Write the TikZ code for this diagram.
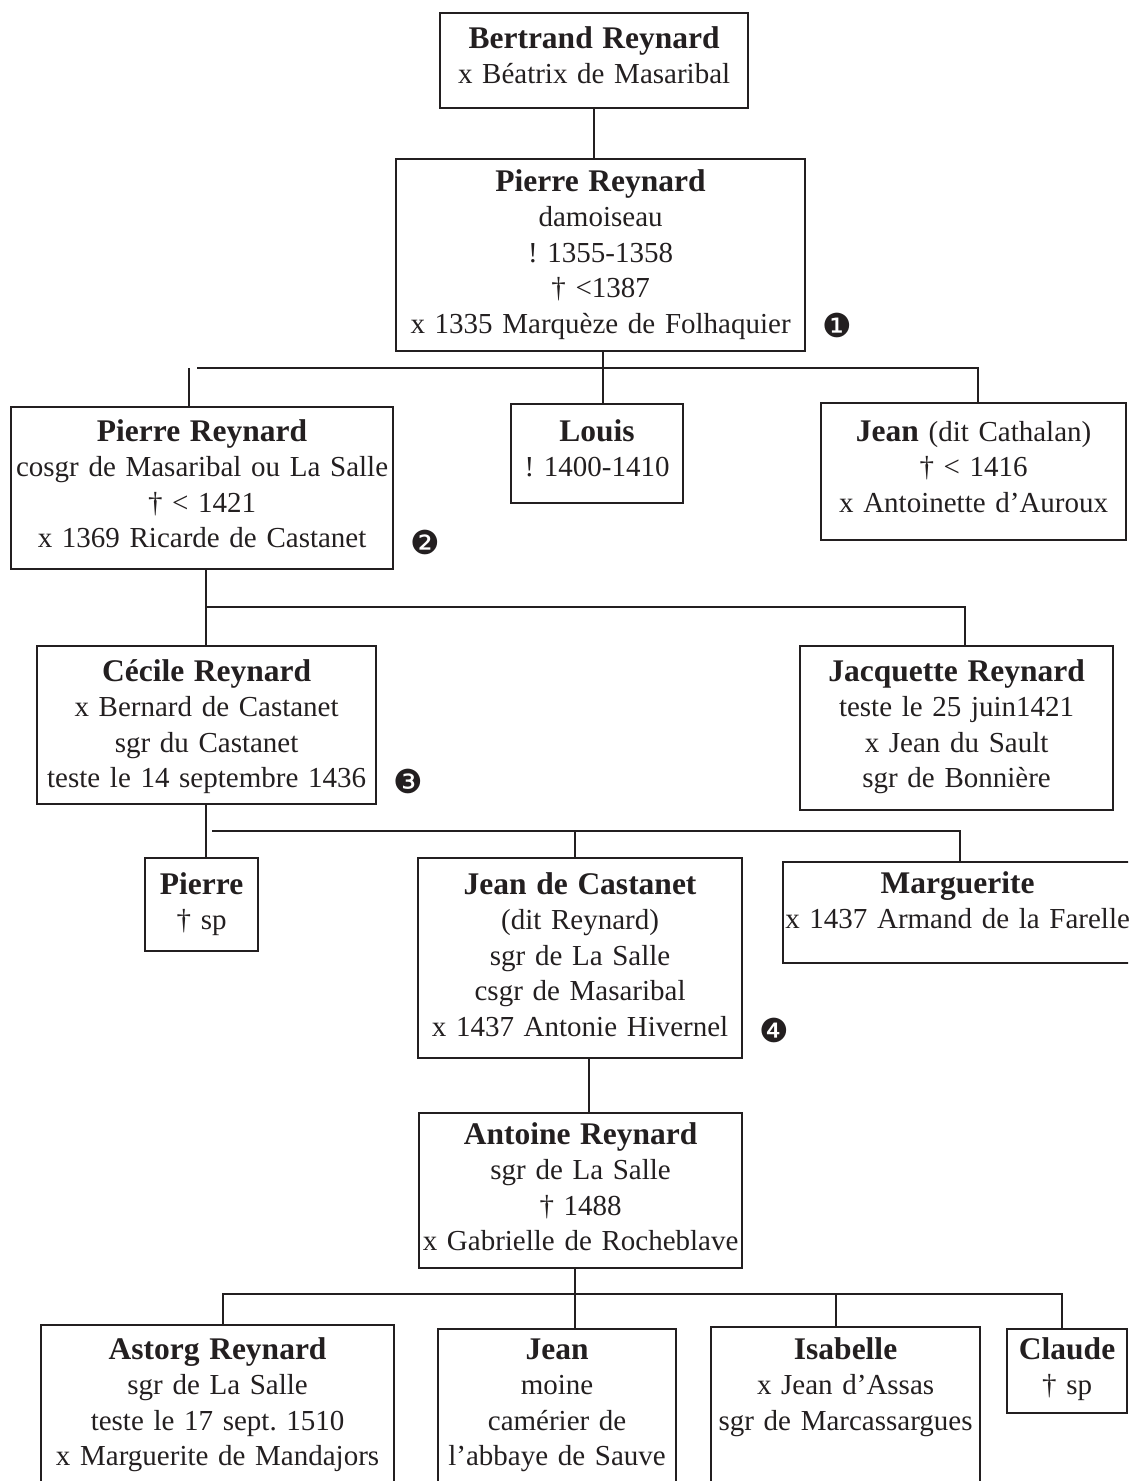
\documentclass[tikz,border=0pt]{standalone}
\usepackage{fontspec}
\setmainfont{Liberation Serif}
\newfontfamily\dingfont{DejaVu Sans}
\usetikzlibrary{positioning, calc}
\definecolor{ink}{HTML}{231F20}
\newcommand{\pname}[1]{{\fontsize{31.5}{35.5}\selectfont\bfseries #1}}
\tikzset{
    person/.style={rectangle,draw=ink,line width=2.2pt,anchor=north west,inner sep=0pt,align=center,text=ink,font=\fontsize{29}{35.5}\selectfont\frenchspacing},
    boxsize/.style n args={3}{text width=#1pt,text height=#2pt,text depth=#3pt},
    link/.style={draw=ink,line width=2.2pt},
    marker/.style={text=ink,inner sep=0pt,font=\dingfont\fontsize{33}{33}\selectfont},
}

\begin{document}
\begin{tikzpicture}[x=1pt,y=-1pt]
		\useasboundingbox (0,0) rectangle (1128,1481);
		\clip (0,0) rectangle (1128,1481);

		\node[person, boxsize={308}{35}{60}] (bertrand) at (439,12) {\pname{Bertrand Reynard}\\x Béatrix de Masaribal};
		\node[person, boxsize={409}{32}{160}] (pierreA) at (395,158) {\pname{Pierre Reynard}\\damoiseau\\! 1355-1358\\† <1387\\x 1335 Marquèze de Folhaquier};
		\node[person, boxsize={382}{34}{128}] (pierreB) at (10,406) {\pname{Pierre Reynard}\\cosgr de Masaribal ou La Salle\\† < 1421\\x 1369 Ricarde de Castanet};
		\node[person, boxsize={172}{37}{62}] (louis) at (510,403) {\pname{Louis}\\! 1400-1410};
		\node[person, boxsize={305}{38}{99}] (jeanC) at (820,402) {\pname{Jean} (dit Cathalan)\\† < 1416\\x Antoinette d’Auroux};
		\node[person, boxsize={339}{35}{123}] (cecile) at (36,645) {\pname{Cécile Reynard}\\x Bernard de Castanet\\sgr du Castanet\\teste le 14 septembre 1436};
		\node[person, boxsize={313}{35}{129}] (jacquette) at (799,645) {\pname{Jacquette Reynard}\\teste le 25 juin1421\\x Jean du Sault\\sgr de Bonnière};
		\node[person, boxsize={113}{36}{57}] (pierreC) at (144,857) {\pname{Pierre}\\† sp};
		\node[person, boxsize={324}{36}{164}] (castanet) at (417,857) {\pname{Jean de Castanet}\\(dit Reynard)\\sgr de La Salle\\csgr de Masaribal\\x 1437 Antonie Hivernel};
		\node[person, boxsize={349}{31}{70}] (marguerite) at (782,861) {\pname{Marguerite}\\x 1437 Armand de la Farelle};
		\node[person, boxsize={323}{31}{124}] (antoine) at (418,1112) {\pname{Antoine Reynard}\\sgr de La Salle\\† 1488\\x Gabrielle de Rocheblave};
		\node[person, boxsize={353}{34}{150}] (astorg) at (40,1324) {\pname{Astorg Reynard}\\sgr de La Salle\\teste le 17 sept. 1510\\x Marguerite de Mandajors};
		\node[person, boxsize={238}{30}{150}] (jeanM) at (437,1328) {\pname{Jean}\\moine\\camérier de\\l’abbaye de Sauve};
		\node[person, boxsize={269}{32}{150}] (isabelle) at (710,1326) {\pname{Isabelle}\\x Jean d’Assas\\sgr de Marcassargues};
		\node[person, boxsize={120}{30}{54}] (claude) at (1006,1328) {\pname{Claude}\\† sp};

		\node[marker] (n1) at (837,325) {❶};
		\node[marker] (n2) at (425,542) {❷};
		\node[marker] (n3) at (408,781) {❸};
		\node[marker] (n4) at (774,1030) {❹};

		% generation bars
		\coordinate (busA) at (603,368);
		\coordinate (busAl) at (189,368);
		\coordinate (busAr) at (978,368);
		\coordinate (busB) at (206,607);
		\coordinate (busBr) at (965,607);
		\coordinate (busC) at (206,831);
		\coordinate (busCm) at (575,831);
		\coordinate (busCr) at (960,831);
		\coordinate (busD) at (589,1085);
		\coordinate (busE) at (575,1294);
		\coordinate (busEl) at (223,1294);
		\coordinate (busEi) at (836,1294);
		\coordinate (busEr) at (1062,1294);

		\draw[link] (bertrand.south) -- (bertrand.south |- pierreA.north);

		\draw[link] (pierreA.south -| busA) -- (busA |- louis.north);
		\draw[link] (busAl) -- (busAl |- pierreB.north);
		\draw[link] ([xshift=8pt]busAl) -- (busAr) -- (busAr |- jeanC.north);

		\draw[link] (pierreB.south -| busB) -- (busB |- cecile.north);
		\draw[link] (busB) -- (busBr) -- (busBr |- jacquette.north);

		\draw[link] (cecile.south -| busC) -- (busC |- pierreC.north);
		\draw[link] ([xshift=6pt]busC) -- (busCr) -- (busCr |- marguerite.north);
		\draw[link] (busCm) -- (busCm |- castanet.north);

		\draw[link] (castanet.south -| busD) -- (busD |- antoine.north);

		\draw[link] (antoine.south -| busE) -- (busE |- jeanM.north);
		\draw[link] (busEl |- astorg.north) -- (busEl) -- (busEr) -- (busEr |- claude.north);
		\draw[link] (busEi) -- (busEi |- isabelle.north);
	\end{tikzpicture}
\end{document}
